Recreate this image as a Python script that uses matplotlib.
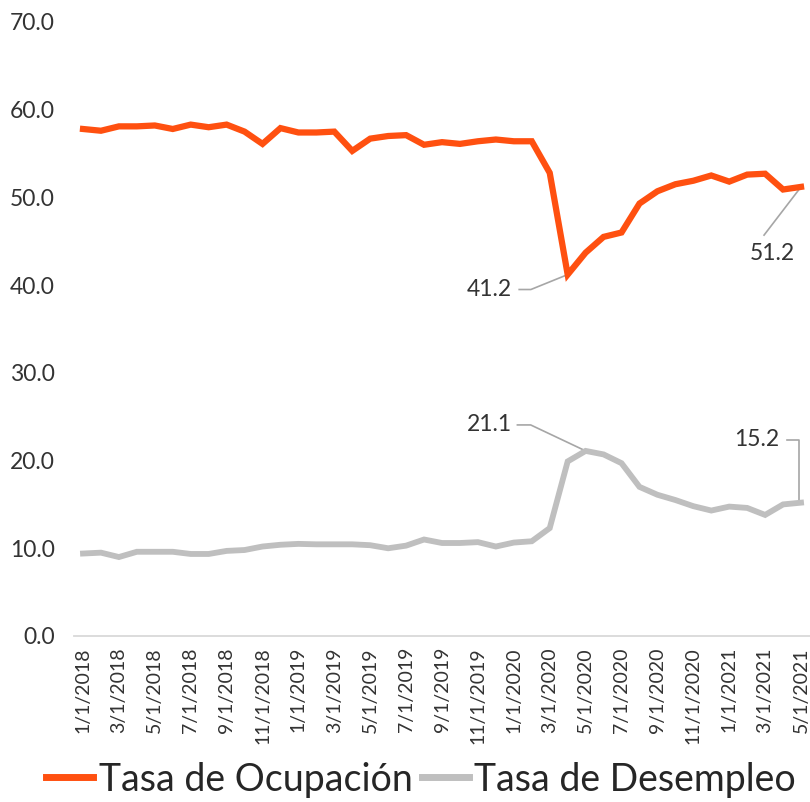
import matplotlib.pyplot as plt
import numpy as np

# monthly dates 1/1/2018 .. 5/1/2021
fechas = [f"{m}/1/{y}" for y in (2018, 2019, 2020, 2021) for m in range(1, 13)][:41]

ocupacion = [57.8, 57.6, 58.1, 58.1, 58.2, 57.8, 58.3, 58.0, 58.3, 57.5, 56.1, 57.9,
             57.4, 57.4, 57.5, 55.3, 56.7, 57.0, 57.1, 56.0, 56.3, 56.1, 56.4, 56.6,
             56.4, 56.4, 52.8, 41.2, 43.7, 45.5, 46.0, 49.3, 50.7, 51.5, 51.9, 52.5,
             51.8, 52.6, 52.7, 50.9, 51.2]
desempleo = [9.4, 9.5, 9.0, 9.6, 9.6, 9.6, 9.35, 9.35, 9.7, 9.8, 10.2, 10.4,
             10.5, 10.45, 10.45, 10.45, 10.35, 10.0, 10.3, 11.0, 10.6, 10.6, 10.7, 10.2,
             10.65, 10.8, 12.3, 19.9, 21.1, 20.7, 19.7, 17.0, 16.1, 15.5, 14.8, 14.3,
             14.75, 14.6, 13.8, 15.0, 15.2]

naranja = '#FF5010'
gris = '#BFBFBF'
texto = '#333333'

plt.rcParams['font.family'] = ['Lato', 'DejaVu Sans']

fig = plt.figure(figsize=(8.1, 8.02), dpi=100)
ax = fig.add_axes([0.0914, 0.207, 0.9086, 0.7656])

x = np.arange(len(fechas))
ax.plot(x, ocupacion, color=naranja, lw=4.5, label='Tasa de Ocupación', solid_joinstyle='miter')
ax.plot(x, desempleo, color=gris, lw=4.2, label='Tasa de Desempleo', solid_joinstyle='miter')

ax.set_xlim(-0.5, len(fechas) - 0.5)
ax.set_ylim(0, 70)
ax.set_yticks(np.arange(0, 71, 10))
ax.set_yticklabels([f"{v:.1f}" for v in range(0, 71, 10)], fontsize=16.5, color=texto)
ax.set_xticks(x[::2])
ax.set_xticklabels(fechas[::2], rotation=90, fontsize=14, color=texto)
ax.tick_params(length=0, pad=8)
ax.tick_params(axis='y', pad=14)

for s in ['top', 'right', 'left']:
    ax.spines[s].set_visible(False)
ax.spines['bottom'].set_color('#D9D9D9')
ax.spines['bottom'].set_linewidth(1.3)

# data labels with leader lines
def etiqueta(i, v, txt, lx, ly, tx, ty, ha):
    ax.plot([i + d for d in lx], [v + d for d in ly], color='#A6A6A6', lw=1.2, zorder=1)
    ax.text(i + tx, v + ty, txt, ha=ha, va='center', fontsize=16.5, color=texto)

i = 27
etiqueta(i, ocupacion[i], f"{ocupacion[i]:.1f}", [-2.7, -2.05, 0], [-1.7, -1.7, 0], -3.1, -1.7, 'right')
i = 40
etiqueta(i, ocupacion[i], f"{ocupacion[i]:.1f}", [-2.06, 0], [-5.5, 0], -1.6, -7.6, 'center')
i = 28
etiqueta(i, desempleo[i], f"{desempleo[i]:.1f}", [-3.8, -3.06, 0], [2.96, 2.96, 0], -4.1, 2.96, 'right')
i = 40
etiqueta(i, desempleo[i], f"{desempleo[i]:.1f}", [-0.78, -0.1, -0.1], [7.2, 7.2, 0], -1.2, 7.2, 'right')

leg = fig.legend(loc='center', bbox_to_anchor=(0.52, 0.028), ncol=2, frameon=False,
                 handlelength=1.25, handletextpad=0.15, columnspacing=0.25,
                 prop={'size': 27})
for t in leg.get_texts():
    t.set_color('#262626')
for h in leg.get_lines():
    h.set_linewidth(5)

fig.savefig('out.png', dpi=100)
